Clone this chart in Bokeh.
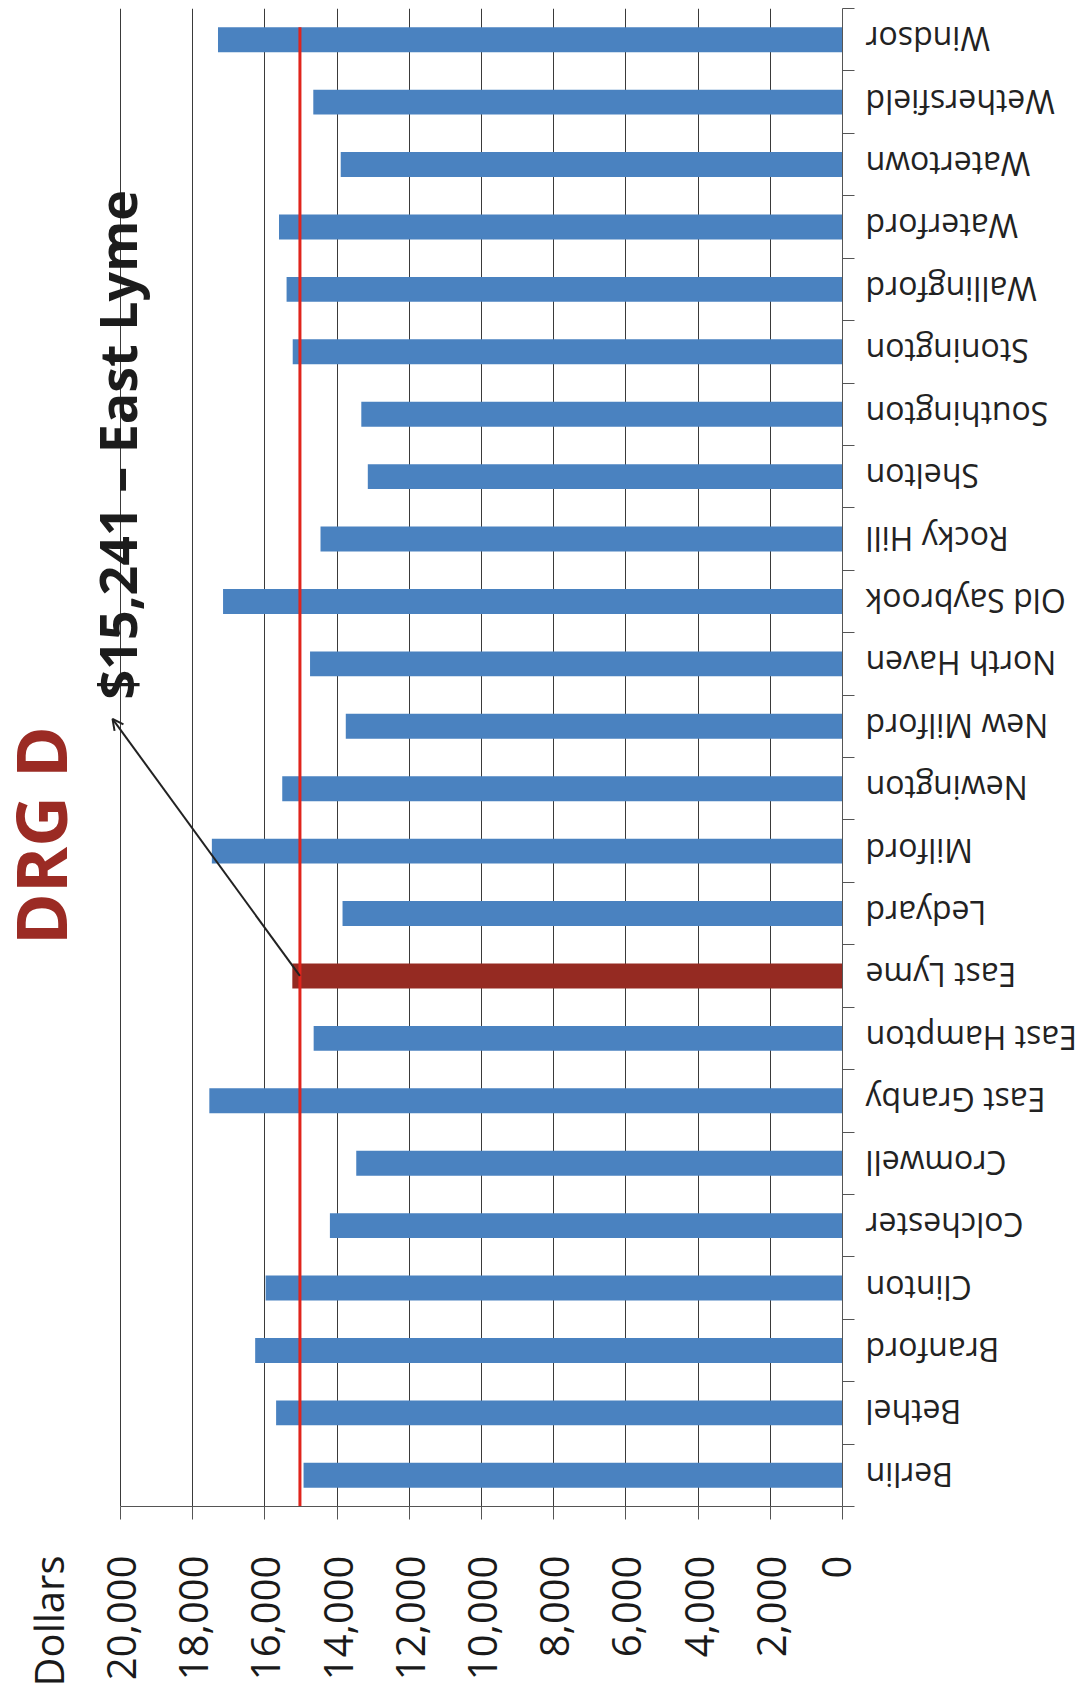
import math
from bokeh.plotting import figure
from bokeh.layouts import row
from bokeh.models import (ColumnDataSource, Range1d, FixedTicker, NumeralTickFormatter,
                          Label, Arrow, OpenHead, CustomJSTickFormatter, LinearAxis)
from bokeh.core.properties import value
from bokeh.embed import file_html
from bokeh.resources import INLINE

# ---- data ----
towns = ["Berlin", "Bethel", "Branford", "Clinton", "Colchester", "Cromwell",
         "East Granby", "East Hampton", "East Lyme", "Ledyard", "Milford",
         "Newington", "New Milford", "North Haven", "Old Saybrook", "Rocky Hill",
         "Shelton", "Southington", "Stonington", "Wallingford", "Waterford",
         "Watertown", "Wethersfield", "Windsor"]
costs = [14930, 15690, 16270, 15980, 14200, 13470,
         17540, 14650, 15241, 13850, 17470,
         15520, 13760, 14750, 17160, 14460,
         13150, 13330, 15230, 15400, 15610,
         13900, 14660, 17300]
highlight_town = "East Lyme"
reference_value = 15030
x_ticks = [0, 2000, 4000, 6000, 8000, 10000, 12000, 14000, 16000, 18000, 20000]
axis_max = 20000
axis_title = "Dollars"
axis_title_pos = 22000
title_text = "DRG D"
callout_text = "$15,241 \u2013 East Lyme"

BLUE = "#4a82c0"
DARKRED = "#952a22"
FONT = "Open Sans"

H = 1690
TOP = 8
BOTTOM = 184
n = len(towns)
idx = list(range(n))
colors = [DARKRED if t == highlight_town else BLUE for t in towns]
src = ColumnDataSource(dict(town=towns, cost=costs, idx=idx, color=colors))

y_range = Range1d(start=-0.5, end=n - 0.5)

# ---------------- main chart ----------------
p = figure(width=862, height=H,
           x_range=Range1d(start=23325, end=0), y_range=y_range,
           y_axis_location="right", output_backend="svg", toolbar_location=None,
           min_border_left=0, min_border_right=20, min_border_top=TOP,
           min_border_bottom=BOTTOM)
p.outline_line_color = None
p.background_fill_color = "white"
p.border_fill_color = "white"

p.xgrid.ticker = FixedTicker(ticks=x_ticks)
p.xgrid.grid_line_color = "#3a3a3a"
p.xgrid.grid_line_width = 1
p.ygrid.visible = False

p.hbar(y="idx", left=0, right="cost", height=0.4, fill_color="color",
       line_color=None, source=src)

p.segment(x0=reference_value, x1=reference_value, y0=-0.75,
          y1=n - 1 + 0.2, line_color="#e0241c", line_width=3)

# axis line + tick marks
xa = p.xaxis[0]
xa.bounds = (0, axis_max)
xa.ticker = FixedTicker(ticks=x_ticks)
xa.formatter = CustomJSTickFormatter(code="return ''")
xa.major_label_text_font_size = "1px"
xa.major_label_standoff = 0
xa.major_tick_out = 13
xa.major_tick_in = 0
xa.minor_tick_line_color = None
xa.axis_line_color = "#555555"
xa.major_tick_line_color = "#555555"

# tick labels (and the "Dollars" caption beside them)
xl = LinearAxis(ticker=FixedTicker(ticks=x_ticks + [axis_title_pos]),
                formatter=NumeralTickFormatter(format="0,0"),
                major_label_overrides={axis_title_pos: axis_title})
xl.major_label_orientation = math.pi / 2
xl.major_label_text_font = FONT
xl.major_label_text_font_size = "40px"
xl.major_label_text_color = "#1a1a1a"
xl.major_label_standoff = 36
xl.major_tick_out = 0
xl.major_tick_in = 0
xl.major_tick_line_color = None
xl.minor_tick_line_color = None
xl.axis_line_color = None
p.add_layout(xl, "below")

ya = p.yaxis[0]
ya.ticker = FixedTicker(ticks=[i - 0.5 for i in range(n + 1)])
ya.formatter = CustomJSTickFormatter(code="return ''")
ya.major_label_standoff = 0
ya.major_tick_out = 12
ya.major_tick_in = 0
ya.minor_tick_line_color = None
ya.axis_line_color = "#555555"
ya.major_tick_line_color = "#555555"

p.add_layout(Label(x=22231, y=10.25, text=title_text, angle=math.pi / 2,
                   text_align="center", text_baseline="middle",
                   text_font=FONT, text_font_size="70px", text_font_style="bold",
                   text_color="#9b2b24"))
p.add_layout(Label(x=20111, y=16.51, text=callout_text, angle=math.pi / 2,
                   text_align="center", text_baseline="alphabetic",
                   text_font=FONT, text_font_size="52px", text_font_style="bold",
                   text_color="#1c1c1c"))
p.add_layout(Arrow(x_start=reference_value, y_start=towns.index(highlight_town),
                   x_end=20222, y_end=12.12,
                   end=OpenHead(size=11, line_width=2, line_color="#222222"),
                   line_width=2, line_color="#222222"))

# ---------------- right category labels ----------------
right = figure(width=215, height=H, x_range=Range1d(start=0, end=1), y_range=y_range,
               x_axis_location=None, y_axis_location=None,
               output_backend="svg", toolbar_location=None,
               min_border_left=0, min_border_right=0, min_border_top=TOP,
               min_border_bottom=BOTTOM)
right.outline_line_color = None
right.grid.visible = False
right.text(x=0, y="idx", text="town", source=src, x_offset=3,
           angle=math.pi, text_align="right", text_baseline="middle",
           text_font=value(FONT), text_font_size="32px", text_color="#222222")

layout = row(p, right, spacing=0)
open("out.html", "w").write(file_html(layout, INLINE))
